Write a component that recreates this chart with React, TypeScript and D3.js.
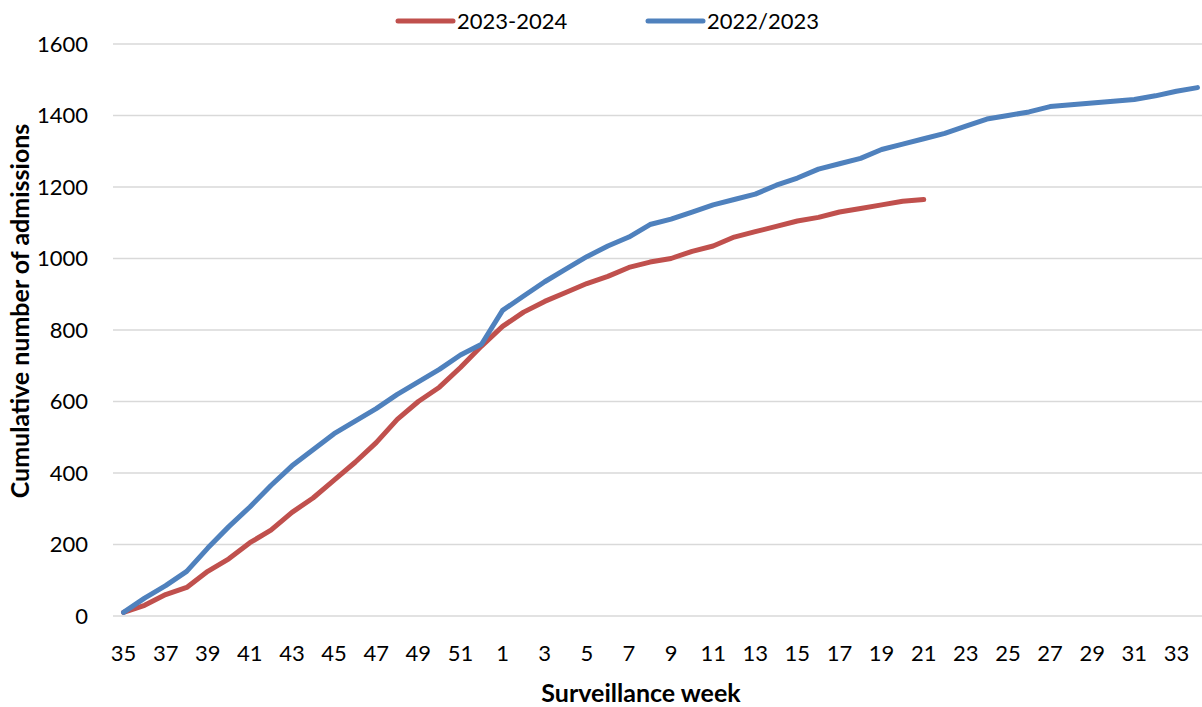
import React from 'react';
import * as d3 from 'd3';

const WEEKS = [
  '35', '36', '37', '38', '39', '40', '41', '42', '43', '44', '45', '46', '47', '48', '49', '50', '51', '52',
  '1', '2', '3', '4', '5', '6', '7', '8', '9', '10', '11', '12', '13', '14', '15', '16', '17', '18', '19', '20',
  '21', '22', '23', '24', '25', '26', '27', '28', '29', '30', '31', '32', '33', '34'
];

// 2023-2024 season, weeks 35..21
const SEASON_2023_24 = [
  10, 30, 60, 80, 125, 160, 205, 240, 290, 330, 380, 430, 485, 550, 600, 640, 695, 755,
  810, 850, 880, 905, 930, 950, 975, 990, 1000, 1020, 1035, 1060, 1075, 1090, 1105, 1115, 1130, 1140, 1150, 1160,
  1165
];

// 2022/2023 season, weeks 35..34
const SEASON_2022_23 = [
  10, 50, 85, 125, 190, 250, 305, 365, 420, 465, 510, 545, 580, 620, 655, 690, 730, 760,
  855, 895, 935, 970, 1005, 1035, 1060, 1095, 1110, 1130, 1150, 1165, 1180, 1205, 1225, 1250, 1265, 1280, 1305, 1320,
  1335, 1350, 1370, 1390, 1400, 1410, 1425, 1430, 1435, 1440, 1445, 1455, 1468, 1478
];

const Y_TICKS = [0, 200, 400, 600, 800, 1000, 1200, 1400, 1600];

const SERIES = [
  { name: '2023-2024', values: SEASON_2023_24, color: '#C0504D' },
  { name: '2022/2023', values: SEASON_2022_23, color: '#4F81BD' }
];

const FONT = 'Lato, "Open Sans", sans-serif';

const App: React.FC = () => {
  const width = 1202;
  const height = 707;
  const left = 113;
  const right = 1208;
  const top = 44;
  const bottom = 616;

  const x = d3.scalePoint<string>().domain(WEEKS).range([left, right]).padding(0.5);
  const y = d3.scaleLinear().domain([0, 1600]).range([bottom, top]);

  const line = d3
    .line<number>()
    .x((_, i) => x(WEEKS[i]) as number)
    .y((d) => y(d));

  const legendItems = [
    { x: 398, textX: 457 },
    { x: 648, textX: 707 }
  ];

  return (
    <div style={{ position: 'absolute', left: 0, top: 0 }}>
      <svg width={width} height={height} style={{ display: 'block', background: '#fff' }}>
        {Y_TICKS.map((t) => (
          <g key={t}>
            <line x1={left} x2={right} y1={y(t)} y2={y(t)} stroke="#D9D9D9" strokeWidth={1.5} />
            <text x={88} y={y(t)} dy="0.35em" textAnchor="end" fontFamily={FONT} fontSize={22} fill="#000">
              {t}
            </text>
          </g>
        ))}

        {WEEKS.map((w, i) =>
          i % 2 === 0 ? (
            <text key={w} x={x(w)} y={653} dy="0.35em" textAnchor="middle" fontFamily={FONT} fontSize={22} fill="#000">
              {w}
            </text>
          ) : null
        )}

        {SERIES.map((s) => (
          <path
            key={s.name}
            d={line(s.values) || ''}
            fill="none"
            stroke={s.color}
            strokeWidth={5}
            strokeLinejoin="round"
            strokeLinecap="round"
          />
        ))}

        {SERIES.map((s, i) => (
          <g key={s.name}>
            <line
              x1={legendItems[i].x}
              x2={legendItems[i].x + 55}
              y1={21}
              y2={21}
              stroke={s.color}
              strokeWidth={5}
              strokeLinecap="round"
            />
            <text x={legendItems[i].textX} y={21} dy="0.35em" fontFamily={FONT} fontSize={22} fill="#000">
              {s.name}
            </text>
          </g>
        ))}

        <text
          transform="translate(20, 311) rotate(-90)"
          textAnchor="middle"
          dy="0.35em"
          fontFamily={FONT}
          fontSize={25}
          fontWeight="bold"
          fill="#000"
        >
          Cumulative number  of admissions
        </text>

        <text x={641} y={693} dy="0.35em" textAnchor="middle" fontFamily={FONT} fontSize={25} fontWeight="bold" fill="#000">
          Surveillance week
        </text>
      </svg>
    </div>
  );
};

export default App;
